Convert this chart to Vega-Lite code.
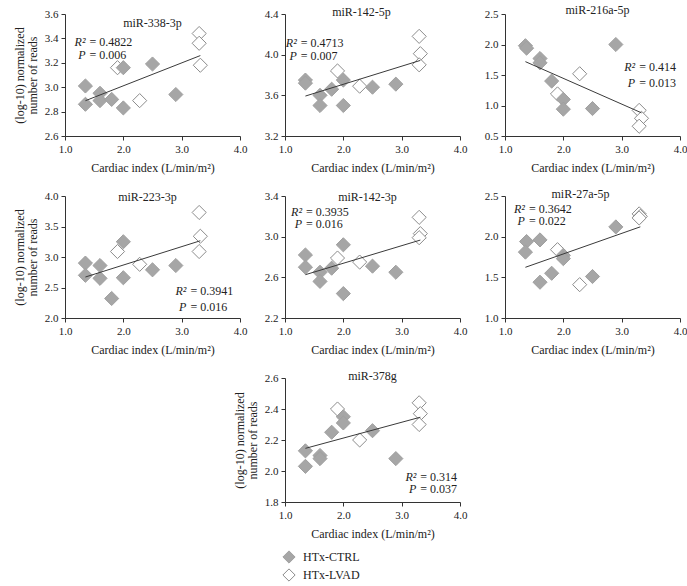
{
  "$schema": "https://vega.github.io/schema/vega-lite/v6.json",
  "background": "white",
  "padding": {"left": 13, "top": 4, "right": 0, "bottom": 0},
  "columns": 3,
  "bounds": "flush",
  "align": "each",
  "spacing": {"row": 60, "column": 45},
  "resolve": {
    "scale": {"x": "independent", "y": "independent", "fill": "independent", "stroke": "independent"},
    "legend": {"fill": "independent", "stroke": "independent"}
  },
  "config": {
    "font": "Liberation Serif",
    "view": {"stroke": null},
    "axis": {
      "grid": false, "domainColor": "#333333", "tickColor": "#333333", "tickSize": 4,
      "labelColor": "#222222", "titleColor": "#222222", "labelFontSize": 11, "titleFontSize": 12,
      "titleFontWeight": "normal", "labelFont": "Liberation Serif", "titleFont": "Liberation Serif", "labelPadding": 3,
      "labelOverlap": false, "labelFlush": false
    },
    "axisX": {"titlePadding": 8},
    "axisY": {"titlePadding": 5, "titleLineHeight": 13},
    "text": {"font": "Liberation Serif", "fontSize": 12, "color": "#222222", "baseline": "middle"}
  },
  "datasets": {
    "p1": [
      {"ci": 1.35, "val": 3.01, "group": "HTx-CTRL"}, {"ci": 1.35, "val": 2.86, "group": "HTx-CTRL"},
      {"ci": 1.6, "val": 2.95, "group": "HTx-CTRL"}, {"ci": 1.6, "val": 2.89, "group": "HTx-CTRL"},
      {"ci": 1.8, "val": 2.90, "group": "HTx-CTRL"}, {"ci": 2.0, "val": 2.83, "group": "HTx-CTRL"},
      {"ci": 2.0, "val": 3.16, "group": "HTx-CTRL"}, {"ci": 2.5, "val": 3.19, "group": "HTx-CTRL"},
      {"ci": 2.9, "val": 2.94, "group": "HTx-CTRL"},
      {"ci": 1.9, "val": 3.16, "group": "HTx-LVAD"}, {"ci": 2.28, "val": 2.89, "group": "HTx-LVAD"},
      {"ci": 3.3, "val": 3.44, "group": "HTx-LVAD"}, {"ci": 3.3, "val": 3.36, "group": "HTx-LVAD"},
      {"ci": 3.32, "val": 3.18, "group": "HTx-LVAD"}
    ],
    "p2": [
      {"ci": 1.35, "val": 3.75, "group": "HTx-CTRL"}, {"ci": 1.35, "val": 3.72, "group": "HTx-CTRL"},
      {"ci": 1.6, "val": 3.60, "group": "HTx-CTRL"}, {"ci": 1.6, "val": 3.50, "group": "HTx-CTRL"},
      {"ci": 1.8, "val": 3.66, "group": "HTx-CTRL"}, {"ci": 2.0, "val": 3.75, "group": "HTx-CTRL"},
      {"ci": 2.0, "val": 3.50, "group": "HTx-CTRL"}, {"ci": 2.5, "val": 3.68, "group": "HTx-CTRL"},
      {"ci": 2.9, "val": 3.71, "group": "HTx-CTRL"},
      {"ci": 1.9, "val": 3.84, "group": "HTx-LVAD"}, {"ci": 2.28, "val": 3.69, "group": "HTx-LVAD"},
      {"ci": 3.3, "val": 4.18, "group": "HTx-LVAD"}, {"ci": 3.32, "val": 4.01, "group": "HTx-LVAD"},
      {"ci": 3.3, "val": 3.90, "group": "HTx-LVAD"}
    ],
    "p3": [
      {"ci": 1.35, "val": 1.98, "group": "HTx-CTRL"}, {"ci": 1.37, "val": 1.94, "group": "HTx-CTRL"},
      {"ci": 1.6, "val": 1.77, "group": "HTx-CTRL"}, {"ci": 1.6, "val": 1.70, "group": "HTx-CTRL"},
      {"ci": 1.8, "val": 1.40, "group": "HTx-CTRL"}, {"ci": 2.0, "val": 1.10, "group": "HTx-CTRL"},
      {"ci": 2.0, "val": 0.94, "group": "HTx-CTRL"}, {"ci": 2.5, "val": 0.95, "group": "HTx-CTRL"},
      {"ci": 2.9, "val": 2.00, "group": "HTx-CTRL"},
      {"ci": 1.9, "val": 1.19, "group": "HTx-LVAD"}, {"ci": 2.28, "val": 1.52, "group": "HTx-LVAD"},
      {"ci": 3.3, "val": 0.92, "group": "HTx-LVAD"}, {"ci": 3.34, "val": 0.79, "group": "HTx-LVAD"},
      {"ci": 3.3, "val": 0.66, "group": "HTx-LVAD"}
    ],
    "p4": [
      {"ci": 1.35, "val": 2.90, "group": "HTx-CTRL"}, {"ci": 1.35, "val": 2.70, "group": "HTx-CTRL"},
      {"ci": 1.6, "val": 2.86, "group": "HTx-CTRL"}, {"ci": 1.6, "val": 2.65, "group": "HTx-CTRL"},
      {"ci": 1.8, "val": 2.32, "group": "HTx-CTRL"}, {"ci": 2.0, "val": 3.25, "group": "HTx-CTRL"},
      {"ci": 2.0, "val": 2.66, "group": "HTx-CTRL"}, {"ci": 2.5, "val": 2.79, "group": "HTx-CTRL"},
      {"ci": 2.9, "val": 2.86, "group": "HTx-CTRL"},
      {"ci": 1.9, "val": 3.09, "group": "HTx-LVAD"}, {"ci": 2.28, "val": 2.88, "group": "HTx-LVAD"},
      {"ci": 3.3, "val": 3.73, "group": "HTx-LVAD"}, {"ci": 3.32, "val": 3.34, "group": "HTx-LVAD"},
      {"ci": 3.3, "val": 3.09, "group": "HTx-LVAD"}
    ],
    "p5": [
      {"ci": 1.35, "val": 2.82, "group": "HTx-CTRL"}, {"ci": 1.35, "val": 2.70, "group": "HTx-CTRL"},
      {"ci": 1.6, "val": 2.65, "group": "HTx-CTRL"}, {"ci": 1.6, "val": 2.56, "group": "HTx-CTRL"},
      {"ci": 1.8, "val": 2.69, "group": "HTx-CTRL"}, {"ci": 2.0, "val": 2.92, "group": "HTx-CTRL"},
      {"ci": 2.0, "val": 2.44, "group": "HTx-CTRL"}, {"ci": 2.5, "val": 2.71, "group": "HTx-CTRL"},
      {"ci": 2.9, "val": 2.65, "group": "HTx-CTRL"},
      {"ci": 1.9, "val": 2.79, "group": "HTx-LVAD"}, {"ci": 2.28, "val": 2.75, "group": "HTx-LVAD"},
      {"ci": 3.3, "val": 3.19, "group": "HTx-LVAD"}, {"ci": 3.32, "val": 3.03, "group": "HTx-LVAD"},
      {"ci": 3.3, "val": 2.99, "group": "HTx-LVAD"}
    ],
    "p6": [
      {"ci": 1.37, "val": 1.94, "group": "HTx-CTRL"}, {"ci": 1.35, "val": 1.81, "group": "HTx-CTRL"},
      {"ci": 1.6, "val": 1.96, "group": "HTx-CTRL"}, {"ci": 1.6, "val": 1.44, "group": "HTx-CTRL"},
      {"ci": 1.8, "val": 1.55, "group": "HTx-CTRL"}, {"ci": 2.0, "val": 1.77, "group": "HTx-CTRL"},
      {"ci": 2.0, "val": 1.73, "group": "HTx-CTRL"}, {"ci": 2.5, "val": 1.51, "group": "HTx-CTRL"},
      {"ci": 2.9, "val": 2.12, "group": "HTx-CTRL"},
      {"ci": 1.9, "val": 1.84, "group": "HTx-LVAD"}, {"ci": 2.28, "val": 1.41, "group": "HTx-LVAD"},
      {"ci": 3.3, "val": 2.28, "group": "HTx-LVAD"}, {"ci": 3.32, "val": 2.25, "group": "HTx-LVAD"},
      {"ci": 3.3, "val": 2.23, "group": "HTx-LVAD"}
    ],
    "p7": [
      {"ci": 1.35, "val": 2.13, "group": "HTx-CTRL"}, {"ci": 1.35, "val": 2.03, "group": "HTx-CTRL"},
      {"ci": 1.6, "val": 2.10, "group": "HTx-CTRL"}, {"ci": 1.6, "val": 2.08, "group": "HTx-CTRL"},
      {"ci": 1.8, "val": 2.25, "group": "HTx-CTRL"}, {"ci": 2.0, "val": 2.35, "group": "HTx-CTRL"},
      {"ci": 2.0, "val": 2.31, "group": "HTx-CTRL"}, {"ci": 2.5, "val": 2.26, "group": "HTx-CTRL"},
      {"ci": 2.9, "val": 2.08, "group": "HTx-CTRL"},
      {"ci": 1.9, "val": 2.40, "group": "HTx-LVAD"}, {"ci": 2.28, "val": 2.20, "group": "HTx-LVAD"},
      {"ci": 3.3, "val": 2.44, "group": "HTx-LVAD"}, {"ci": 3.32, "val": 2.37, "group": "HTx-LVAD"},
      {"ci": 3.3, "val": 2.30, "group": "HTx-LVAD"}
    ]
  },
  "concat": [
    {
      "width": 175, "height": 122,
      "layer": [
        {"data": {"name": "p1"},
         "mark": {"type": "point", "shape": "diamond", "filled": true, "size": 200, "strokeWidth": 1, "opacity": 1},
         "encoding": {
           "x": {"field": "ci", "type": "quantitative", "scale": {"domain": [1, 4], "nice": false, "zero": false}, "axis": {"values": [1, 2, 3, 4], "format": ".1f", "title": "Cardiac index (L/min/m²)", "labelOverlap": false}},
           "y": {"field": "val", "type": "quantitative", "scale": {"domain": [2.6, 3.6], "nice": false, "zero": false}, "axis": {"values": [2.6, 2.8, 3.0, 3.2, 3.4, 3.6], "format": ".1f", "title": ["(log-10) normalized", "number of reads"], "labelOverlap": false}},
           "fill": {"field": "group", "type": "nominal", "scale": {"domain": ["HTx-CTRL", "HTx-LVAD"], "range": ["#a6a6a6", "#ffffff"]}, "legend": null},
           "stroke": {"field": "group", "type": "nominal", "scale": {"domain": ["HTx-CTRL", "HTx-LVAD"], "range": ["#a0a0a0", "#8c8c8c"]}, "legend": null},
           "order": {"field": "group", "sort": "descending"}}},
        {"data": {"name": "p1"}, "transform": [{"regression": "val", "on": "ci"}], "mark": {"type": "line", "color": "#3a3a3a", "strokeWidth": 1},
         "encoding": {
           "x": {"field": "ci", "type": "quantitative", "axis": {"values": [1, 2, 3, 4], "format": ".1f", "title": "Cardiac index (L/min/m²)", "labelOverlap": false}},
           "y": {"field": "val", "type": "quantitative", "axis": {"values": [2.6, 2.8, 3.0, 3.2, 3.4, 3.6], "format": ".1f", "title": ["(log-10) normalized", "number of reads"], "labelOverlap": false}}}},
        {"data": {"values": [{"note": "labels"}]},
         "encoding": {
           "x": {"datum": 2.5, "type": "quantitative", "axis": {"values": [1, 2, 3, 4], "format": ".1f", "title": "Cardiac index (L/min/m²)", "labelOverlap": false}},
           "y": {"datum": 3.6, "type": "quantitative", "axis": {"values": [2.6, 2.8, 3.0, 3.2, 3.4, 3.6], "format": ".1f", "title": ["(log-10) normalized", "number of reads"], "labelOverlap": false}}},
         "layer": [
           {"mark": {"type": "text", "align": "center", "dy": 9}, "encoding": {"text": {"value": "miR-338-3p"}}},
           {"mark": {"type": "text", "align": "right", "fontStyle": "italic", "dx": -4}, "encoding": {"x": {"datum": 1.42, "type": "quantitative"}, "y": {"datum": 3.373, "type": "quantitative"}, "text": {"value": "R²"}}},
           {"mark": {"type": "text", "align": "left"}, "encoding": {"x": {"datum": 1.42, "type": "quantitative"}, "y": {"datum": 3.373, "type": "quantitative"}, "text": {"value": "= 0.4822"}}},
           {"mark": {"type": "text", "align": "right", "fontStyle": "italic", "dx": -4}, "encoding": {"x": {"datum": 1.42, "type": "quantitative"}, "y": {"datum": 3.264, "type": "quantitative"}, "text": {"value": "P"}}},
           {"mark": {"type": "text", "align": "left"}, "encoding": {"x": {"datum": 1.42, "type": "quantitative"}, "y": {"datum": 3.264, "type": "quantitative"}, "text": {"value": "= 0.006"}}}
         ]}
      ]
    },
    {
      "width": 175, "height": 122,
      "layer": [
        {"data": {"name": "p2"},
         "mark": {"type": "point", "shape": "diamond", "filled": true, "size": 200, "strokeWidth": 1, "opacity": 1},
         "encoding": {
           "x": {"field": "ci", "type": "quantitative", "scale": {"domain": [1, 4], "nice": false, "zero": false}, "axis": {"values": [1, 2, 3, 4], "format": ".1f", "title": "Cardiac index (L/min/m²)", "labelOverlap": false}},
           "y": {"field": "val", "type": "quantitative", "scale": {"domain": [3.2, 4.4], "nice": false, "zero": false}, "axis": {"values": [3.2, 3.6, 4.0, 4.4], "format": ".1f", "title": null, "labelOverlap": false}},
           "fill": {"field": "group", "type": "nominal", "scale": {"domain": ["HTx-CTRL", "HTx-LVAD"], "range": ["#a6a6a6", "#ffffff"]}, "legend": null},
           "stroke": {"field": "group", "type": "nominal", "scale": {"domain": ["HTx-CTRL", "HTx-LVAD"], "range": ["#a0a0a0", "#8c8c8c"]}, "legend": null},
           "order": {"field": "group", "sort": "descending"}}},
        {"data": {"name": "p2"}, "transform": [{"regression": "val", "on": "ci"}], "mark": {"type": "line", "color": "#3a3a3a", "strokeWidth": 1},
         "encoding": {
           "x": {"field": "ci", "type": "quantitative", "axis": {"values": [1, 2, 3, 4], "format": ".1f", "title": "Cardiac index (L/min/m²)", "labelOverlap": false}},
           "y": {"field": "val", "type": "quantitative", "axis": {"values": [3.2, 3.6, 4.0, 4.4], "format": ".1f", "title": null, "labelOverlap": false}}}},
        {"data": {"values": [{"note": "labels"}]},
         "encoding": {
           "x": {"datum": 2.5, "type": "quantitative", "axis": {"values": [1, 2, 3, 4], "format": ".1f", "title": "Cardiac index (L/min/m²)", "labelOverlap": false}},
           "y": {"datum": 4.4, "type": "quantitative", "axis": {"values": [3.2, 3.6, 4.0, 4.4], "format": ".1f", "title": null, "labelOverlap": false}}},
         "layer": [
           {"mark": {"type": "text", "align": "center", "dx": -11, "dy": -2}, "encoding": {"text": {"value": "miR-142-5p"}}},
           {"mark": {"type": "text", "align": "right", "fontStyle": "italic", "dx": -4}, "encoding": {"x": {"datum": 1.27, "type": "quantitative"}, "y": {"datum": 4.112, "type": "quantitative"}, "text": {"value": "R²"}}},
           {"mark": {"type": "text", "align": "left"}, "encoding": {"x": {"datum": 1.27, "type": "quantitative"}, "y": {"datum": 4.112, "type": "quantitative"}, "text": {"value": "= 0.4713"}}},
           {"mark": {"type": "text", "align": "right", "fontStyle": "italic", "dx": -4}, "encoding": {"x": {"datum": 1.27, "type": "quantitative"}, "y": {"datum": 3.987, "type": "quantitative"}, "text": {"value": "P"}}},
           {"mark": {"type": "text", "align": "left"}, "encoding": {"x": {"datum": 1.27, "type": "quantitative"}, "y": {"datum": 3.987, "type": "quantitative"}, "text": {"value": "= 0.007"}}}
         ]}
      ]
    },
    {
      "width": 175, "height": 122,
      "layer": [
        {"data": {"name": "p3"},
         "mark": {"type": "point", "shape": "diamond", "filled": true, "size": 200, "strokeWidth": 1, "opacity": 1},
         "encoding": {
           "x": {"field": "ci", "type": "quantitative", "scale": {"domain": [1, 4], "nice": false, "zero": false}, "axis": {"values": [1, 2, 3, 4], "format": ".1f", "title": "Cardiac index (L/min/m²)", "labelOverlap": false}},
           "y": {"field": "val", "type": "quantitative", "scale": {"domain": [0.5, 2.5], "nice": false, "zero": false}, "axis": {"values": [0.5, 1.0, 1.5, 2.0, 2.5], "format": ".1f", "title": null, "labelOverlap": false}},
           "fill": {"field": "group", "type": "nominal", "scale": {"domain": ["HTx-CTRL", "HTx-LVAD"], "range": ["#a6a6a6", "#ffffff"]}, "legend": null},
           "stroke": {"field": "group", "type": "nominal", "scale": {"domain": ["HTx-CTRL", "HTx-LVAD"], "range": ["#a0a0a0", "#8c8c8c"]}, "legend": null},
           "order": {"field": "group", "sort": "descending"}}},
        {"data": {"name": "p3"}, "transform": [{"regression": "val", "on": "ci"}], "mark": {"type": "line", "color": "#3a3a3a", "strokeWidth": 1},
         "encoding": {
           "x": {"field": "ci", "type": "quantitative", "axis": {"values": [1, 2, 3, 4], "format": ".1f", "title": "Cardiac index (L/min/m²)", "labelOverlap": false}},
           "y": {"field": "val", "type": "quantitative", "axis": {"values": [0.5, 1.0, 1.5, 2.0, 2.5], "format": ".1f", "title": null, "labelOverlap": false}}}},
        {"data": {"values": [{"note": "labels"}]},
         "encoding": {
           "x": {"datum": 2.5, "type": "quantitative", "axis": {"values": [1, 2, 3, 4], "format": ".1f", "title": "Cardiac index (L/min/m²)", "labelOverlap": false}},
           "y": {"datum": 2.5, "type": "quantitative", "axis": {"values": [0.5, 1.0, 1.5, 2.0, 2.5], "format": ".1f", "title": null, "labelOverlap": false}}},
         "layer": [
           {"mark": {"type": "text", "align": "center", "dx": 5, "dy": -4}, "encoding": {"text": {"value": "miR-216a-5p"}}},
           {"mark": {"type": "text", "align": "right", "fontStyle": "italic", "dx": -4}, "encoding": {"x": {"datum": 3.30, "type": "quantitative"}, "y": {"datum": 1.636, "type": "quantitative"}, "text": {"value": "R²"}}},
           {"mark": {"type": "text", "align": "left"}, "encoding": {"x": {"datum": 3.30, "type": "quantitative"}, "y": {"datum": 1.636, "type": "quantitative"}, "text": {"value": "= 0.414"}}},
           {"mark": {"type": "text", "align": "right", "fontStyle": "italic", "dx": -4}, "encoding": {"x": {"datum": 3.30, "type": "quantitative"}, "y": {"datum": 1.374, "type": "quantitative"}, "text": {"value": "P"}}},
           {"mark": {"type": "text", "align": "left"}, "encoding": {"x": {"datum": 3.30, "type": "quantitative"}, "y": {"datum": 1.374, "type": "quantitative"}, "text": {"value": "= 0.013"}}}
         ]}
      ]
    },
    {
      "width": 175, "height": 122,
      "layer": [
        {"data": {"name": "p4"},
         "mark": {"type": "point", "shape": "diamond", "filled": true, "size": 200, "strokeWidth": 1, "opacity": 1},
         "encoding": {
           "x": {"field": "ci", "type": "quantitative", "scale": {"domain": [1, 4], "nice": false, "zero": false}, "axis": {"values": [1, 2, 3, 4], "format": ".1f", "title": "Cardiac index (L/min/m²)", "labelOverlap": false}},
           "y": {"field": "val", "type": "quantitative", "scale": {"domain": [2.0, 4.0], "nice": false, "zero": false}, "axis": {"values": [2.0, 2.5, 3.0, 3.5, 4.0], "format": ".1f", "title": ["(log-10) normalized", "number of reads"], "labelOverlap": false}},
           "fill": {"field": "group", "type": "nominal", "scale": {"domain": ["HTx-CTRL", "HTx-LVAD"], "range": ["#a6a6a6", "#ffffff"]}, "legend": null},
           "stroke": {"field": "group", "type": "nominal", "scale": {"domain": ["HTx-CTRL", "HTx-LVAD"], "range": ["#a0a0a0", "#8c8c8c"]}, "legend": null},
           "order": {"field": "group", "sort": "descending"}}},
        {"data": {"name": "p4"}, "transform": [{"regression": "val", "on": "ci"}], "mark": {"type": "line", "color": "#3a3a3a", "strokeWidth": 1},
         "encoding": {
           "x": {"field": "ci", "type": "quantitative", "axis": {"values": [1, 2, 3, 4], "format": ".1f", "title": "Cardiac index (L/min/m²)", "labelOverlap": false}},
           "y": {"field": "val", "type": "quantitative", "axis": {"values": [2.0, 2.5, 3.0, 3.5, 4.0], "format": ".1f", "title": ["(log-10) normalized", "number of reads"], "labelOverlap": false}}}},
        {"data": {"values": [{"note": "labels"}]},
         "encoding": {
           "x": {"datum": 2.5, "type": "quantitative", "axis": {"values": [1, 2, 3, 4], "format": ".1f", "title": "Cardiac index (L/min/m²)", "labelOverlap": false}},
           "y": {"datum": 4.0, "type": "quantitative", "axis": {"values": [2.0, 2.5, 3.0, 3.5, 4.0], "format": ".1f", "title": ["(log-10) normalized", "number of reads"], "labelOverlap": false}}},
         "layer": [
           {"mark": {"type": "text", "align": "center", "dx": -5, "dy": 1}, "encoding": {"text": {"value": "miR-223-3p"}}},
           {"mark": {"type": "text", "align": "right", "fontStyle": "italic", "dx": -4}, "encoding": {"x": {"datum": 3.15, "type": "quantitative"}, "y": {"datum": 2.448, "type": "quantitative"}, "text": {"value": "R²"}}},
           {"mark": {"type": "text", "align": "left"}, "encoding": {"x": {"datum": 3.15, "type": "quantitative"}, "y": {"datum": 2.448, "type": "quantitative"}, "text": {"value": "= 0.3941"}}},
           {"mark": {"type": "text", "align": "right", "fontStyle": "italic", "dx": -4}, "encoding": {"x": {"datum": 3.15, "type": "quantitative"}, "y": {"datum": 2.175, "type": "quantitative"}, "text": {"value": "P"}}},
           {"mark": {"type": "text", "align": "left"}, "encoding": {"x": {"datum": 3.15, "type": "quantitative"}, "y": {"datum": 2.175, "type": "quantitative"}, "text": {"value": "= 0.016"}}}
         ]}
      ]
    },
    {
      "width": 175, "height": 122,
      "layer": [
        {"data": {"name": "p5"},
         "mark": {"type": "point", "shape": "diamond", "filled": true, "size": 200, "strokeWidth": 1, "opacity": 1},
         "encoding": {
           "x": {"field": "ci", "type": "quantitative", "scale": {"domain": [1, 4], "nice": false, "zero": false}, "axis": {"values": [1, 2, 3, 4], "format": ".1f", "title": "Cardiac index (L/min/m²)", "labelOverlap": false}},
           "y": {"field": "val", "type": "quantitative", "scale": {"domain": [2.2, 3.4], "nice": false, "zero": false}, "axis": {"values": [2.2, 2.6, 3.0, 3.4], "format": ".1f", "title": null, "labelOverlap": false}},
           "fill": {"field": "group", "type": "nominal", "scale": {"domain": ["HTx-CTRL", "HTx-LVAD"], "range": ["#a6a6a6", "#ffffff"]}, "legend": null},
           "stroke": {"field": "group", "type": "nominal", "scale": {"domain": ["HTx-CTRL", "HTx-LVAD"], "range": ["#a0a0a0", "#8c8c8c"]}, "legend": null},
           "order": {"field": "group", "sort": "descending"}}},
        {"data": {"name": "p5"}, "transform": [{"regression": "val", "on": "ci"}], "mark": {"type": "line", "color": "#3a3a3a", "strokeWidth": 1},
         "encoding": {
           "x": {"field": "ci", "type": "quantitative", "axis": {"values": [1, 2, 3, 4], "format": ".1f", "title": "Cardiac index (L/min/m²)", "labelOverlap": false}},
           "y": {"field": "val", "type": "quantitative", "axis": {"values": [2.2, 2.6, 3.0, 3.4], "format": ".1f", "title": null, "labelOverlap": false}}}},
        {"data": {"values": [{"note": "labels"}]},
         "encoding": {
           "x": {"datum": 2.5, "type": "quantitative", "axis": {"values": [1, 2, 3, 4], "format": ".1f", "title": "Cardiac index (L/min/m²)", "labelOverlap": false}},
           "y": {"datum": 3.4, "type": "quantitative", "axis": {"values": [2.2, 2.6, 3.0, 3.4], "format": ".1f", "title": null, "labelOverlap": false}}},
         "layer": [
           {"mark": {"type": "text", "align": "center", "dx": -5, "dy": 1}, "encoding": {"text": {"value": "miR-142-3p"}}},
           {"mark": {"type": "text", "align": "right", "fontStyle": "italic", "dx": -4}, "encoding": {"x": {"datum": 1.36, "type": "quantitative"}, "y": {"datum": 3.241, "type": "quantitative"}, "text": {"value": "R²"}}},
           {"mark": {"type": "text", "align": "left"}, "encoding": {"x": {"datum": 1.36, "type": "quantitative"}, "y": {"datum": 3.241, "type": "quantitative"}, "text": {"value": "= 0.3935"}}},
           {"mark": {"type": "text", "align": "right", "fontStyle": "italic", "dx": -4}, "encoding": {"x": {"datum": 1.36, "type": "quantitative"}, "y": {"datum": 3.127, "type": "quantitative"}, "text": {"value": "P"}}},
           {"mark": {"type": "text", "align": "left"}, "encoding": {"x": {"datum": 1.36, "type": "quantitative"}, "y": {"datum": 3.127, "type": "quantitative"}, "text": {"value": "= 0.016"}}}
         ]}
      ]
    },
    {
      "width": 175, "height": 122,
      "layer": [
        {"data": {"name": "p6"},
         "mark": {"type": "point", "shape": "diamond", "filled": true, "size": 200, "strokeWidth": 1, "opacity": 1},
         "encoding": {
           "x": {"field": "ci", "type": "quantitative", "scale": {"domain": [1, 4], "nice": false, "zero": false}, "axis": {"values": [1, 2, 3, 4], "format": ".1f", "title": "Cardiac index (L/min/m²)", "labelOverlap": false}},
           "y": {"field": "val", "type": "quantitative", "scale": {"domain": [1.0, 2.5], "nice": false, "zero": false}, "axis": {"values": [1.0, 1.5, 2.0, 2.5], "format": ".1f", "title": null, "labelOverlap": false}},
           "fill": {"field": "group", "type": "nominal", "scale": {"domain": ["HTx-CTRL", "HTx-LVAD"], "range": ["#a6a6a6", "#ffffff"]}, "legend": null},
           "stroke": {"field": "group", "type": "nominal", "scale": {"domain": ["HTx-CTRL", "HTx-LVAD"], "range": ["#a0a0a0", "#8c8c8c"]}, "legend": null},
           "order": {"field": "group", "sort": "descending"}}},
        {"data": {"name": "p6"}, "transform": [{"regression": "val", "on": "ci"}], "mark": {"type": "line", "color": "#3a3a3a", "strokeWidth": 1},
         "encoding": {
           "x": {"field": "ci", "type": "quantitative", "axis": {"values": [1, 2, 3, 4], "format": ".1f", "title": "Cardiac index (L/min/m²)", "labelOverlap": false}},
           "y": {"field": "val", "type": "quantitative", "axis": {"values": [1.0, 1.5, 2.0, 2.5], "format": ".1f", "title": null, "labelOverlap": false}}}},
        {"data": {"values": [{"note": "labels"}]},
         "encoding": {
           "x": {"datum": 2.5, "type": "quantitative", "axis": {"values": [1, 2, 3, 4], "format": ".1f", "title": "Cardiac index (L/min/m²)", "labelOverlap": false}},
           "y": {"datum": 2.5, "type": "quantitative", "axis": {"values": [1.0, 1.5, 2.0, 2.5], "format": ".1f", "title": null, "labelOverlap": false}}},
         "layer": [
           {"mark": {"type": "text", "align": "center", "dx": -12, "dy": -2}, "encoding": {"text": {"value": "miR-27a-5p"}}},
           {"mark": {"type": "text", "align": "right", "fontStyle": "italic", "dx": -4}, "encoding": {"x": {"datum": 1.41, "type": "quantitative"}, "y": {"datum": 2.34, "type": "quantitative"}, "text": {"value": "R²"}}},
           {"mark": {"type": "text", "align": "left"}, "encoding": {"x": {"datum": 1.41, "type": "quantitative"}, "y": {"datum": 2.34, "type": "quantitative"}, "text": {"value": "= 0.3642"}}},
           {"mark": {"type": "text", "align": "right", "fontStyle": "italic", "dx": -4}, "encoding": {"x": {"datum": 1.41, "type": "quantitative"}, "y": {"datum": 2.19, "type": "quantitative"}, "text": {"value": "P"}}},
           {"mark": {"type": "text", "align": "left"}, "encoding": {"x": {"datum": 1.41, "type": "quantitative"}, "y": {"datum": 2.19, "type": "quantitative"}, "text": {"value": "= 0.022"}}}
         ]}
      ]
    },
    {
      "width": 175, "height": 124,
      "data": {"values": [{"note": "blank"}]},
      "mark": {"type": "text"},
      "encoding": {"text": {"value": ""}}
    },
    {
      "width": 175, "height": 124,
      "layer": [
        {"data": {"name": "p7"},
         "mark": {"type": "point", "shape": "diamond", "filled": true, "size": 200, "strokeWidth": 1, "opacity": 1},
         "encoding": {
           "x": {"field": "ci", "type": "quantitative", "scale": {"domain": [1, 4], "nice": false, "zero": false}, "axis": {"values": [1, 2, 3, 4], "format": ".1f", "title": "Cardiac index (L/min/m²)", "labelOverlap": false}},
           "y": {"field": "val", "type": "quantitative", "scale": {"domain": [1.8, 2.6], "nice": false, "zero": false}, "axis": {"values": [1.8, 2.0, 2.2, 2.4, 2.6], "format": ".1f", "title": ["(log-10) normalized", "number of reads"], "labelOverlap": false}},
           "fill": {"field": "group", "type": "nominal", "scale": {"domain": ["HTx-CTRL", "HTx-LVAD"], "range": ["#a6a6a6", "#ffffff"]},
                    "legend": {"orient": "none", "legendX": -3, "legendY": 172, "title": null, "symbolType": "diamond", "symbolSize": 150, "labelFontSize": 12, "labelFont": "Liberation Serif", "labelColor": "#222222", "labelOffset": 7, "rowPadding": 0, "symbolStrokeWidth": 1}},
           "stroke": {"field": "group", "type": "nominal", "scale": {"domain": ["HTx-CTRL", "HTx-LVAD"], "range": ["#a0a0a0", "#8c8c8c"]},
                    "legend": {"orient": "none", "legendX": -3, "legendY": 172, "title": null, "symbolType": "diamond", "symbolSize": 150, "labelFontSize": 12, "labelFont": "Liberation Serif", "labelColor": "#222222", "labelOffset": 7, "rowPadding": 0, "symbolStrokeWidth": 1}},
           "order": {"field": "group", "sort": "descending"}}},
        {"data": {"name": "p7"}, "transform": [{"regression": "val", "on": "ci"}], "mark": {"type": "line", "color": "#3a3a3a", "strokeWidth": 1},
         "encoding": {
           "x": {"field": "ci", "type": "quantitative", "axis": {"values": [1, 2, 3, 4], "format": ".1f", "title": "Cardiac index (L/min/m²)", "labelOverlap": false}},
           "y": {"field": "val", "type": "quantitative", "axis": {"values": [1.8, 2.0, 2.2, 2.4, 2.6], "format": ".1f", "title": ["(log-10) normalized", "number of reads"], "labelOverlap": false}}}},
        {"data": {"values": [{"note": "labels"}]},
         "encoding": {
           "x": {"datum": 2.5, "type": "quantitative", "axis": {"values": [1, 2, 3, 4], "format": ".1f", "title": "Cardiac index (L/min/m²)", "labelOverlap": false}},
           "y": {"datum": 2.6, "type": "quantitative", "axis": {"values": [1.8, 2.0, 2.2, 2.4, 2.6], "format": ".1f", "title": ["(log-10) normalized", "number of reads"], "labelOverlap": false}}},
         "layer": [
           {"mark": {"type": "text", "align": "center", "dx": 0, "dy": -2}, "encoding": {"text": {"value": "miR-378g"}}},
           {"mark": {"type": "text", "align": "right", "fontStyle": "italic", "dx": -4}, "encoding": {"x": {"datum": 3.32, "type": "quantitative"}, "y": {"datum": 1.959, "type": "quantitative"}, "text": {"value": "R²"}}},
           {"mark": {"type": "text", "align": "left"}, "encoding": {"x": {"datum": 3.32, "type": "quantitative"}, "y": {"datum": 1.959, "type": "quantitative"}, "text": {"value": "= 0.314"}}},
           {"mark": {"type": "text", "align": "right", "fontStyle": "italic", "dx": -4}, "encoding": {"x": {"datum": 3.32, "type": "quantitative"}, "y": {"datum": 1.884, "type": "quantitative"}, "text": {"value": "P"}}},
           {"mark": {"type": "text", "align": "left"}, "encoding": {"x": {"datum": 3.32, "type": "quantitative"}, "y": {"datum": 1.884, "type": "quantitative"}, "text": {"value": "= 0.037"}}}
         ]}
      ]
    }
  ]
}
